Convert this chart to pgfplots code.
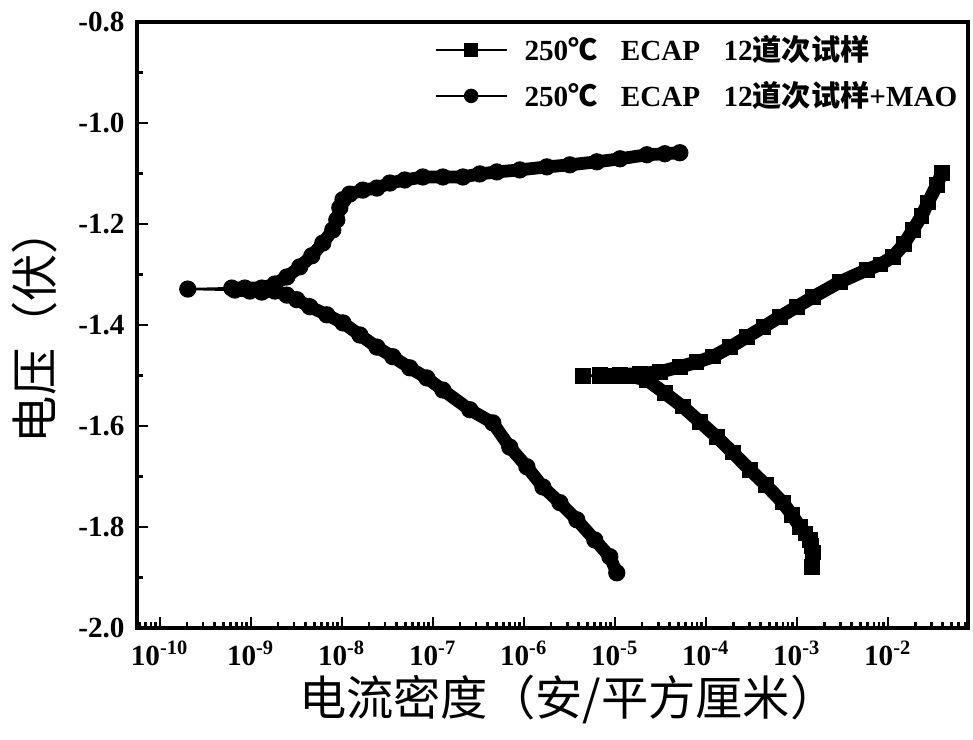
\documentclass[border=0pt]{standalone}
\usepackage{pgfplots}
\pgfplotsset{compat=1.18}
\usepackage{pgfplotstable}
\usepackage{fontspec}
\usetikzlibrary{calc}
\setmainfont{Liberation Serif}
\newfontfamily\cjk{Noto Sans CJK SC}

\pgfplotstableread{
x y
1.46e-3 -1.879
1.50e-3 -1.851
1.45e-3 -1.838
1.39e-3 -1.826
1.25e-3 -1.813
1.08e-3 -1.800
8.80e-4 -1.776
7.02e-4 -1.752
4.56e-4 -1.717
3.05e-4 -1.687
1.98e-4 -1.653
1.32e-4 -1.622
8.59e-5 -1.592
5.58e-5 -1.562
3.54e-5 -1.535
2.25e-5 -1.509
1.46e-5 -1.501
1.00e-5 -1.501
6.84e-6 -1.501
4.45e-6 -1.501
6.84e-6 -1.499
1.14e-5 -1.499
1.88e-5 -1.497
3.13e-5 -1.493
5.18e-5 -1.483
7.90e-5 -1.474
1.19e-4 -1.463
1.85e-4 -1.444
2.82e-4 -1.424
4.30e-4 -1.404
6.50e-4 -1.384
1.00e-3 -1.364
1.50e-3 -1.345
2.97e-3 -1.315
5.87e-3 -1.291
8.30e-3 -1.280
1.14e-2 -1.265
1.50e-2 -1.240
1.88e-2 -1.212
2.35e-2 -1.184
2.75e-2 -1.158
3.45e-2 -1.123
3.92e-2 -1.099
}\sqdata

\pgfplotstableread{
x y
1.05e-5 -1.891
8.81e-6 -1.859
6.03e-6 -1.826
3.82e-6 -1.786
2.49e-6 -1.752
1.62e-6 -1.721
1.08e-6 -1.681
7.01e-7 -1.642
4.56e-7 -1.594
2.55e-7 -1.568
1.29e-7 -1.529
8.59e-8 -1.505
5.58e-8 -1.485
3.63e-8 -1.463
2.43e-8 -1.444
1.58e-8 -1.420
1.03e-8 -1.396
6.84e-9 -1.380
4.45e-9 -1.364
3.20e-9 -1.350
2.49e-9 -1.341
1.84e-9 -1.333
1.32e-9 -1.335
9.75e-10 -1.333
6.67e-10 -1.331
2.03e-10 -1.329
6.18e-10 -1.327
8.59e-10 -1.327
1.32e-9 -1.327
1.84e-9 -1.319
2.49e-9 -1.305
3.45e-9 -1.285
4.68e-9 -1.263
6.18e-9 -1.238
7.96e-9 -1.212
8.81e-9 -1.192
9.51e-9 -1.168
1.03e-8 -1.152
1.22e-8 -1.141
1.70e-8 -1.133
2.43e-8 -1.129
3.37e-8 -1.119
4.92e-8 -1.113
7.76e-8 -1.107
1.29e-7 -1.107
2.14e-7 -1.107
3.28e-7 -1.101
5.05e-7 -1.097
9.04e-7 -1.093
1.79e-6 -1.087
3.20e-6 -1.083
6.34e-6 -1.077
1.14e-5 -1.071
2.25e-5 -1.063
3.54e-5 -1.061
5.18e-5 -1.059
}\cidata

\begin{document}
\begin{tikzpicture}
\begin{axis}[
  name=ax,
  scale only axis,
  width=299pt, height=218pt,
  xmode=log,
  xmin=5.62e-11, xmax=7.59e-2,
  ymin=-2.0, ymax=-0.8,
  axis line style={line width=1.4pt},
  tick style={line width=0.9pt, black},
  major tick length=4pt,
  minor tick length=2pt,
  tick align=inside,
  tick pos=left,
  xtick={1e-10,1e-9,1e-8,1e-7,1e-6,1e-5,1e-4,1e-3,1e-2},
  xticklabels={10\textsuperscript{-10},10\textsuperscript{-9},10\textsuperscript{-8},10\textsuperscript{-7},10\textsuperscript{-6},10\textsuperscript{-5},10\textsuperscript{-4},10\textsuperscript{-3},10\textsuperscript{-2}},
  minor xtick={6e-11,7e-11,8e-11,9e-11,
    2e-10,3e-10,4e-10,5e-10,6e-10,7e-10,8e-10,9e-10,
    2e-9,3e-9,4e-9,5e-9,6e-9,7e-9,8e-9,9e-9,
    2e-8,3e-8,4e-8,5e-8,6e-8,7e-8,8e-8,9e-8,
    2e-7,3e-7,4e-7,5e-7,6e-7,7e-7,8e-7,9e-7,
    2e-6,3e-6,4e-6,5e-6,6e-6,7e-6,8e-6,9e-6,
    2e-5,3e-5,4e-5,5e-5,6e-5,7e-5,8e-5,9e-5,
    2e-4,3e-4,4e-4,5e-4,6e-4,7e-4,8e-4,9e-4,
    2e-3,3e-3,4e-3,5e-3,6e-3,7e-3,8e-3,9e-3,
    2e-2,3e-2,4e-2,5e-2,6e-2,7e-2},
  ytick={-2.0,-1.8,-1.6,-1.4,-1.2,-1.0,-0.8},
  yticklabels={-2.0,-1.8,-1.6,-1.4,-1.2,-1.0,-0.8},
  minor ytick={-1.9,-1.7,-1.5,-1.3,-1.1,-0.9},
  every x tick label/.append style={font=\bfseries\fontsize{10.5}{12}\selectfont, inner sep=0pt, yshift=-4.5pt},
  every y tick label/.append style={font=\bfseries\fontsize{10.5}{12}\selectfont, inner sep=0pt, xshift=-4.3pt},
  xlabel={\cjk 电流密度（安/平方厘米）},
  ylabel={\cjk 电压（伏）},
  xlabel style={at={(axis description cs:0.519,-0.119)}, anchor=center, font=\fontsize{17}{19}\selectfont},
  ylabel style={at={(axis description cs:-0.1227,0.5)}, anchor=center, font=\fontsize{17}{19}\selectfont},
  legend style={at={(axis description cs:0.998,0.993)}, anchor=north east, draw=none, fill=none,
    font=\bfseries\fontsize{10.5}{12}\selectfont, row sep=2pt, inner sep=1pt},
  legend cell align=left,
  legend image code/.code={\draw[mark repeat=2,mark phase=2] plot coordinates {(0cm,0cm) (0.45cm,0cm) (0.9cm,0cm)};},
]
\addlegendimage{black, line width=0.8pt, mark=square*, mark size=2.2pt}
\addlegendentry{\hspace{4pt}250{\cjk\bfseries ℃}\hspace{0.8em}ECAP\hspace{0.8em}12{\cjk\bfseries 道次试样}}
\addlegendimage{black, line width=0.8pt, mark=*, mark size=2.2pt}
\addlegendentry{\hspace{4pt}250{\cjk\bfseries ℃}\hspace{0.8em}ECAP\hspace{0.8em}12{\cjk\bfseries 道次试样}+MAO}

\addplot[black, line width=4.8pt, line join=round, line cap=round, forget plot,
  skip coords between index={19}{20}] table {\sqdata};
\addplot[black, line width=0.8pt, mark=square*, mark size=2.4pt, forget plot] table {\sqdata};

\addplot[black, line width=4.6pt, line join=round, line cap=round, forget plot,
  skip coords between index={25}{26}] table {\cidata};
\addplot[black, line width=0.8pt, mark=*, mark size=2.7pt, forget plot] table {\cidata};
\end{axis}
\pgfresetboundingbox
\path ($(ax.south west)+(-49.3pt,-40.3pt)$) rectangle ($(ax.north east)+(1.8pt,7.9pt)$);
\end{tikzpicture}
\end{document}
